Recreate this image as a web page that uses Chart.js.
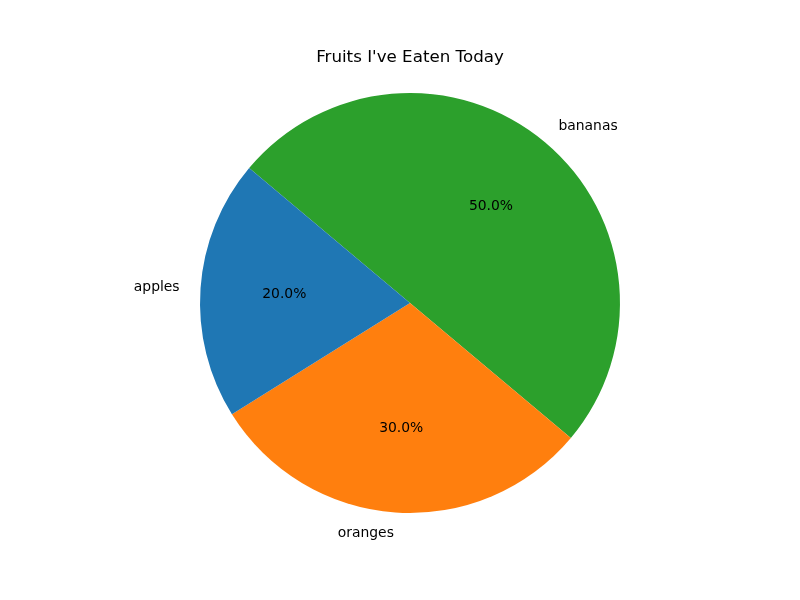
<!DOCTYPE html>
<html>
<head>
<meta charset="utf-8">
<script src="https://cdn.jsdelivr.net/npm/chart.js@4"></script>
<style>
  body { margin: 0; background: #fff; }
</style>
</head>
<body>
<canvas id="myChart" width="800" height="600"></canvas>
<script>
const fruits = ["apples", "oranges", "bananas"];
const eaten = [20, 30, 50];
const colors = ["#1f77b4", "#ff7f0e", "#2ca02c"];

// matplotlib draws counterclockwise, chart.js clockwise, so flip the order
const order = [2, 1, 0];
const total = eaten.reduce((a, b) => a + b, 0);

// labels outside (1.1 r) and percentages inside (0.6 r)
const pieLabels = {
  id: "pieLabels",
  afterDatasetsDraw(chart) {
    const ctx = chart.ctx;
    const meta = chart.getDatasetMeta(0);
    ctx.save();
    ctx.font = "13.9px 'DejaVu Sans'";
    ctx.fillStyle = "#000";
    ctx.textBaseline = "middle";
    meta.data.forEach(function (arc, i) {
      const p = arc.getProps(["x", "y", "startAngle", "endAngle", "outerRadius"], true);
      const mid = (p.startAngle + p.endAngle) / 2;
      const c = Math.cos(mid);
      const s = Math.sin(mid);
      ctx.textAlign = c > 0 ? "left" : "right";
      ctx.fillText(chart.data.labels[i], p.x + c * p.outerRadius * 1.1, p.y + s * p.outerRadius * 1.1);
      ctx.textAlign = "center";
      const pct = (chart.data.datasets[0].data[i] / total * 100).toFixed(1) + "%";
      ctx.fillText(pct, p.x + c * p.outerRadius * 0.6, p.y + s * p.outerRadius * 0.6);
    });
    ctx.restore();
  },
};

const config = {
  type: "pie",
  data: {
    labels: order.map((i) => fruits[i]),
    datasets: [
      {
        data: order.map((i) => eaten[i]),
        backgroundColor: order.map((i) => colors[i]),
        borderWidth: 0,
      },
    ],
  },
  options: {
    responsive: false,
    animation: false,
    rotation: -50,
    layout: {
      padding: { top: 0, left: 200, right: 180, bottom: 87 },
    },
    plugins: {
      legend: { display: false },
      tooltip: { enabled: false },
      title: {
        display: true,
        text: "Fruits I've Eaten Today",
        color: "#000",
        font: { family: "'DejaVu Sans'", size: 16.7, weight: "normal", lineHeight: 1.2 },
        padding: { top: 48, bottom: 25 },
      },
    },
  },
  plugins: [pieLabels],
};

const myChart = new Chart(document.getElementById("myChart"), config);
</script>
</body>
</html>
